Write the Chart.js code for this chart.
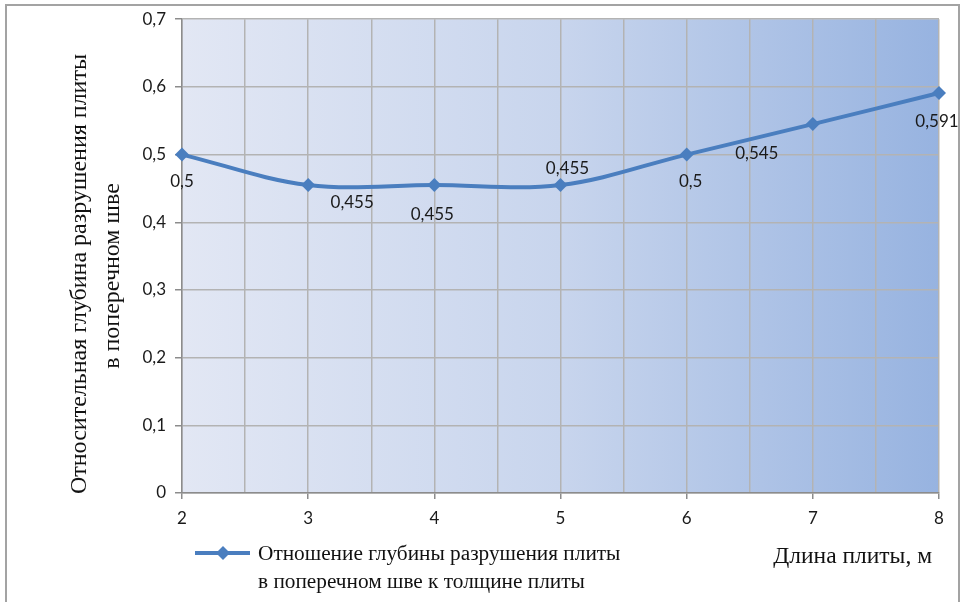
<!DOCTYPE html>
<html>
<head>
<meta charset="utf-8">
<script src="https://cdn.jsdelivr.net/npm/chart.js@4"></script>
<style>
  html, body { margin: 0; padding: 0; background: #ffffff; }
  #wrap { position: relative; width: 964px; height: 602px; overflow: hidden; }
  #frame { position: absolute; left: 5px; top: 4px; width: 955px; height: 640px; border: 2px solid #a3a3a3; box-sizing: border-box; pointer-events: none; }
  canvas { position: absolute; left: 0; top: 0; }
</style>
</head>
<body>
<div id="wrap">
  <canvas id="c" width="964" height="602"></canvas>
  <div id="frame"></div>
</div>
<script>
// Длина плиты, м
const slabLength = [2, 3, 4, 5, 6, 7, 8];
// Относительная глубина разрушения плиты в поперечном шве
const depthRatio = [0.5, 0.455, 0.455, 0.455, 0.5, 0.545, 0.591];
// Y tick values
const yTicks = [0, 0.1, 0.2, 0.3, 0.4, 0.5, 0.6, 0.7];

const seriesName = ['Отношение глубины разрушения плиты', 'в поперечном шве к толщине плиты'];
const yTitle = ['Относительная глубина разрушения плиты', 'в поперечном шве'];
const xTitle = 'Длина плиты, м';

// where each value label sits relative to its point (px)
const labelOffsets = [[0, 27], [44, 17], [-2, 29], [7, -17], [4, 27], [-56, 29], [-2, 29]];

const LINE_COLOR = '#4a7ebf';
const GRID_COLOR = '#b3b3b3';
const AXIS_COLOR = '#8c8c8c';
const SANS = 'Lato, "Open Sans", sans-serif';
const SERIF = '"Liberation Serif", "DejaVu Serif", serif';

const fmt = v => String(v).replace('.', ',');

const plotBackground = {
  id: 'plotBackground',
  beforeDraw(chart) {
    const { ctx, chartArea: a } = chart;
    const g = ctx.createLinearGradient(a.left, 0, a.right, 0);
    g.addColorStop(0, '#e2e7f4');
    g.addColorStop(0.5, '#c8d5ed');
    g.addColorStop(1, '#97b3e0');
    ctx.save();
    ctx.fillStyle = g;
    ctx.fillRect(a.left, a.top, a.right - a.left, a.bottom - a.top);
    ctx.restore();
  }
};

const valueLabels = {
  id: 'valueLabels',
  afterDatasetsDraw(chart) {
    const { ctx } = chart;
    const meta = chart.getDatasetMeta(0);
    ctx.save();
    ctx.font = '17px ' + SANS;
    ctx.fillStyle = '#1a1a1a';
    ctx.textAlign = 'center';
    ctx.textBaseline = 'middle';
    meta.data.forEach((pt, i) => {
      const [dx, dy] = labelOffsets[i];
      ctx.fillText(fmt(depthRatio[i]), pt.x + dx, pt.y + dy);
    });
    ctx.restore();
  }
};

const annotations = {
  id: 'annotations',
  afterDraw(chart) {
    const { ctx } = chart;
    ctx.save();
    ctx.fillStyle = '#111111';
    ctx.textBaseline = 'middle';

    // vertical axis title, two lines
    ctx.save();
    ctx.font = '24px ' + SERIF;
    ctx.translate(80, 274);
    ctx.rotate(-Math.PI / 2);
    ctx.textAlign = 'center';
    ctx.fillText(yTitle[0], 0, 0);
    ctx.fillText(yTitle[1], -2, 33);
    ctx.restore();

    // horizontal axis title
    ctx.font = '23.5px ' + SERIF;
    ctx.textAlign = 'right';
    ctx.fillText(xTitle, 932, 557);

    // legend
    ctx.strokeStyle = LINE_COLOR;
    ctx.lineWidth = 4;
    ctx.beginPath();
    ctx.moveTo(195, 553);
    ctx.lineTo(250, 553);
    ctx.stroke();
    ctx.fillStyle = LINE_COLOR;
    ctx.beginPath();
    ctx.moveTo(223, 546); ctx.lineTo(230, 553); ctx.lineTo(223, 560); ctx.lineTo(216, 553);
    ctx.closePath();
    ctx.fill();
    ctx.fillStyle = '#111111';
    ctx.font = '21.3px ' + SERIF;
    ctx.textAlign = 'left';
    ctx.fillText(seriesName[0], 258, 554);
    ctx.fillText(seriesName[1], 258, 582);
    ctx.restore();
  }
};

new Chart(document.getElementById('c'), {
  type: 'line',
  data: {
    datasets: [{
      label: seriesName.join(' '),
      data: slabLength.map((x, i) => ({ x, y: depthRatio[i] })),
      borderColor: LINE_COLOR,
      backgroundColor: LINE_COLOR,
      borderWidth: 4,
      tension: 0.35,
      pointStyle: 'rectRot',
      pointRadius: 7,
      pointBorderWidth: 0,
      pointBackgroundColor: LINE_COLOR,
      clip: false
    }]
  },
  options: {
    responsive: false,
    animation: false,
    devicePixelRatio: 1,
    layout: { padding: { left: 0, top: 18, right: 25, bottom: 0 } },
    plugins: {
      legend: { display: false },
      tooltip: { enabled: false }
    },
    scales: {
      x: {
        type: 'linear',
        min: 2,
        max: 8,
        afterFit(scale) { scale.height = 109; },
        afterBuildTicks(scale) {
          const t = [];
          for (let v = 2; v <= 8.0001; v += 0.5) t.push({ value: v });
          scale.ticks = t;
        },
        ticks: {
          autoSkip: false,
          maxRotation: 0,
          padding: 9,
          color: '#1a1a1a',
          font: { family: SANS, size: 17 },
          callback: v => (Number.isInteger(v) ? String(v) : '')
        },
        grid: {
          color: GRID_COLOR,
          lineWidth: 1.5,
          tickLength: 6,
          tickColor: ctx => (Number.isInteger(ctx.tick.value) ? AXIS_COLOR : 'rgba(0,0,0,0)')
        },
        border: { color: AXIS_COLOR, width: 1.5 }
      },
      y: {
        min: 0,
        max: 0.7,
        afterFit(scale) { scale.width = 182; },
        afterBuildTicks(scale) { scale.ticks = yTicks.map(v => ({ value: v })); },
        ticks: {
          padding: 9,
          color: '#1a1a1a',
          font: { family: SANS, size: 17 },
          callback: v => fmt(Math.round(v * 10) / 10)
        },
        grid: {
          color: GRID_COLOR,
          lineWidth: 1.5,
          tickLength: 7,
          tickColor: AXIS_COLOR
        },
        border: { color: AXIS_COLOR, width: 1.5 }
      }
    }
  },
  plugins: [plotBackground, valueLabels, annotations]
});
</script>
</body>
</html>
